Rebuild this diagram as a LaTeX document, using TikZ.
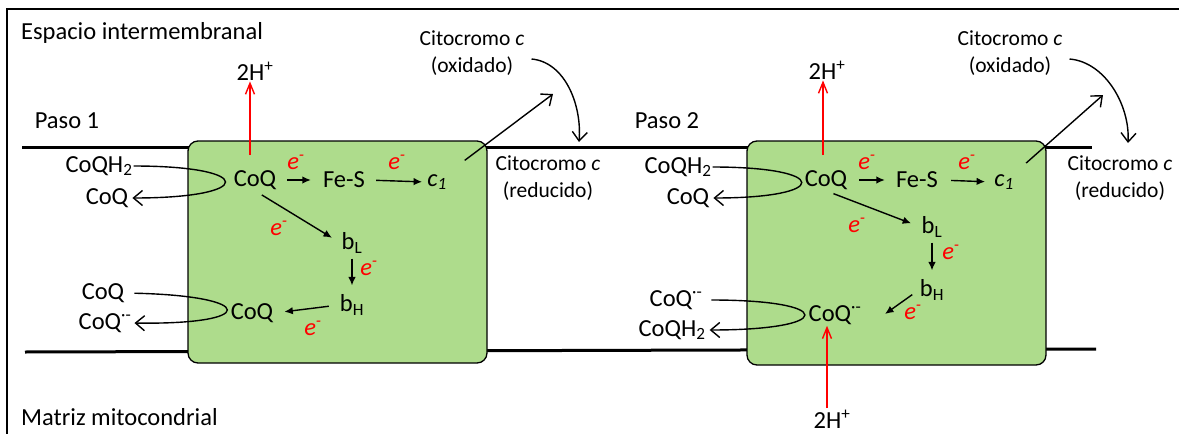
\documentclass[tikz,border=0pt]{standalone}
\usepackage{fontspec}
\setmainfont{Carlito}
\usetikzlibrary{arrows.meta}
\definecolor{boxgreen}{RGB}{174,220,140}
\begin{document}
\begin{tikzpicture}[x=1pt,y=-1pt,
  lbl/.style={font=\fontsize{24.5}{28}\selectfont, inner sep=1pt},
  cyt/.style={font=\fontsize{21.5}{27}\selectfont, align=center, inner sep=1pt},
  elec/.style={font=\fontsize{24.5}{28}\selectfont\itshape, text=red, inner sep=0pt},
  sarr/.style={line width=1.4pt, -{Latex[length=8.5pt,width=7.5pt]}},
  barr/.style={line width=1.4pt, -{Straight Barb[length=9pt,width=15pt]}},
  harr/.style={line width=1.4pt, red, -{Straight Barb[length=11pt,width=9pt]}},
  memb/.style={line width=3pt},
  cplx/.style={draw, line width=1.3pt, fill=boxgreen, rounded corners=10pt, inner sep=0pt}]

\useasboundingbox (0,0) rectangle (1179,434);
\draw[line width=2pt] (7,434) -- (7,9) -- (1179,9);

% membranes
\draw[memb] (22,147) -- (1092,147);
\draw[memb] (25,352) -- (1096,349);

% complexes
\node[cplx, minimum width=299pt, minimum height=222pt] (box1) at (337.5,252) {};
\node[cplx, minimum width=299pt, minimum height=224pt] (box2) at (896.5,253) {};

% region labels
\node[lbl, anchor=west] (esp) at (20,33) {Espacio intermembranal};
\node[lbl, anchor=west] (mat) at (20,417) {Matriz mitocondrial};
\node[lbl] (p1) at (67,121) {Paso 1};
\node[lbl] (p2) at (667,121) {Paso 2};

% ---------- Paso 1 ----------
\node[lbl] (h1) at (255,71) {2H\textsuperscript{+}};
\node[lbl] (q1) at (255,180) {CoQ};
\node[lbl] (fes1) at (344,180) {Fe-S};
\node[lbl] (c1a) at (437,182) {\textit{c\textsubscript{1}}};
\node[lbl] (qh2a) at (99,166) {CoQH\textsubscript{2}};
\node[lbl] (q1out) at (107,198) {CoQ};
\node[lbl] (bL1) at (352,243) {b\textsubscript{L}};
\node[lbl] (bH1) at (352,305) {b\textsubscript{H}};
\node[lbl] (q1b) at (252,313) {CoQ};
\node[lbl] (q1in) at (103,293) {CoQ};
\node[lbl] (sq1) at (105,323) {CoQ\textsuperscript{·-}};

\node[elec] (e11) at (296,162) {e\textsuperscript{-}};
\node[elec] (e12) at (397,162) {e\textsuperscript{-}};
\node[elec] (e13) at (279,228) {e\textsuperscript{-}};
\node[elec] (e14) at (369,268) {e\textsuperscript{-}};
\node[elec] (e15) at (313,328) {e\textsuperscript{-}};

\coordinate (r1) at (250,155);
\draw[harr] (r1) -- (r1 |- h1.south);
\draw[sarr, shorten <=10pt, shorten >=11pt] (q1.east) -- (fes1.west);
\draw[sarr, shorten <=10pt, shorten >=4pt] (fes1.east) -- (c1a.west);
\draw[sarr, shorten <=8pt, shorten >=10pt] (q1.south) -- (bL1.west);
\draw[sarr, shorten <=4pt, shorten >=8pt] (bL1.south) -- (bH1.north);
\draw[sarr, shorten <=10pt, shorten >=10pt] (bH1.west) -- (q1b.east);
\draw[barr, shorten >=3pt] (qh2a.east) .. controls (256,166) and (256,198) .. (q1out.east);
\draw[barr, shorten <=9pt, shorten >=2pt] (q1in.east) .. controls (258,296) and (258,325) .. (sq1.east);

\node[cyt] (ox1) at (472,53) {Citocromo \textit{c}\\(oxidado)};
\node[cyt] (red1) at (548,178) {Citocromo \textit{c}\\(reducido)};
\coordinate (t1) at (553,94);
\coordinate (d1) at (579,142);
\draw[barr, shorten <=21pt] (c1a.north east) -- (t1);
\draw[barr] ([xshift=6pt,yshift=-6pt]ox1.east) .. controls (565,62) and (582,105) .. (d1);

% ---------- Paso 2 ----------
\node[lbl] (h2) at (827,70) {2H\textsuperscript{+}};
\node[lbl] (q2) at (826,180) {CoQ};
\node[lbl] (fes2) at (917,180) {Fe-S};
\node[lbl] (c1b) at (1004,182) {\textit{c\textsubscript{1}}};
\node[lbl] (qh2b) at (678,167) {CoQH\textsubscript{2}};
\node[lbl] (q2out) at (688,198) {CoQ};
\node[lbl] (bL2) at (932,227) {b\textsubscript{L}};
\node[lbl] (bH2) at (932,290) {b\textsubscript{H}};
\node[lbl] (sq2) at (835,315) {CoQ\textsuperscript{·-}};
\node[lbl] (sq2in) at (676,300) {CoQ\textsuperscript{·-}};
\node[lbl] (qh2c) at (672,330) {CoQH\textsubscript{2}};
\node[lbl] (h3) at (832,419) {2H\textsuperscript{+}};

\node[elec] (e21) at (867,162) {e\textsuperscript{-}};
\node[elec] (e22) at (967,162) {e\textsuperscript{-}};
\node[elec] (e23) at (857,225) {e\textsuperscript{-}};
\node[elec] (e24) at (951,252) {e\textsuperscript{-}};
\node[elec] (e25) at (913,312) {e\textsuperscript{-}};

\coordinate (r2) at (823,155);
\draw[harr] (r2) -- (r2 |- h2.south);
\coordinate (r3) at (827,408);
\draw[harr] (r3) -- (r3 |- sq2.south);
\draw[sarr, shorten <=11pt, shorten >=10pt] (q2.east) -- (fes2.west);
\draw[sarr, shorten <=12pt, shorten >=8pt] (fes2.east) -- (c1b.west);
\draw[sarr, shorten <=8pt, shorten >=10pt] (q2.south) -- (bL2.west);
\draw[sarr, shorten <=4pt, shorten >=8pt] (bL2.south) -- (bH2.north);
\coordinate (a2e) at (885,314);
\draw[sarr, shorten <=8pt] (bH2.west) -- (a2e);
\draw[barr, shorten >=3pt] (qh2b.east) .. controls (831,167) and (831,198) .. (q2out.east);
\draw[barr, shorten <=8pt, shorten >=3pt] (sq2in.east) .. controls (836,300) and (836,330) .. (qh2c.east);

\node[cyt] (ox2) at (1010,53) {Citocromo \textit{c}\\(oxidado)};
\node[cyt] (red2) at (1120,178) {Citocromo \textit{c}\\(reducido)};
\coordinate (t2) at (1103,95);
\coordinate (d2) at (1128,143);
\draw[barr, shorten <=15pt] (c1b.north east) -- (t2);
\draw[barr] ([xshift=6pt,yshift=-6pt]ox2.east) .. controls (1105,62) and (1130,105) .. (d2);
\end{tikzpicture}
\end{document}
